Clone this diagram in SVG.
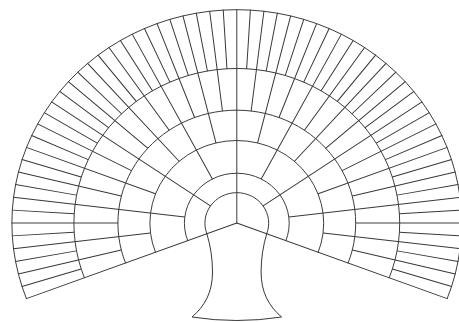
<svg xmlns="http://www.w3.org/2000/svg" xmlns:xlink="http://www.w3.org/1999/xlink" width="459" height="322" viewBox="0 0 459 322">
<style>
.ln{stroke:#383838;stroke-width:1;fill:none;stroke-linecap:round}
</style>
<defs>
<line id="s0" x1="0" y1="0" x2="225" y2="0"/>
<line id="s1" x1="32" y1="0" x2="225" y2="0"/>
<line id="s2" x1="52.5" y1="0" x2="225" y2="0"/>
<line id="s3" x1="87" y1="0" x2="225" y2="0"/>
<line id="s4" x1="119" y1="0" x2="225" y2="0"/>
<line id="s5" x1="163" y1="0" x2="225" y2="0"/>
</defs>
<rect width="459" height="322" fill="#ffffff"/>
<g id="fan" class="ln" transform="translate(236.8,223) scale(1,0.948)">
<g id="rings">
<path d="M -29.920,11.347 A 32 32 0 1 1 29.920,11.347"/>
<path d="M -49.089,18.617 A 52.5 52.5 0 1 1 49.089,18.617"/>
<path d="M -81.347,30.850 A 87 87 0 1 1 81.347,30.850"/>
<path d="M -111.267,42.197 A 119 119 0 1 1 111.267,42.197"/>
<path d="M -152.408,57.800 A 163 163 0 1 1 152.408,57.800"/>
<path d="M -210.380,79.785 A 225 225 0 1 1 210.380,79.785"/>
</g>
<g id="spokes">
<use xlink:href="#s0" transform="rotate(20.769)"/>
<use xlink:href="#s0" transform="rotate(-90)"/>
<use xlink:href="#s0" transform="rotate(-200.769)"/>
<use xlink:href="#s1" transform="rotate(-34.615)"/>
<use xlink:href="#s1" transform="rotate(-145.385)"/>
<use xlink:href="#s2" transform="rotate(-6.923)"/>
<use xlink:href="#s2" transform="rotate(-62.308)"/>
<use xlink:href="#s2" transform="rotate(-117.692)"/>
<use xlink:href="#s2" transform="rotate(-173.077)"/>
<use xlink:href="#s3" transform="rotate(6.923)"/>
<use xlink:href="#s3" transform="rotate(-20.769)"/>
<use xlink:href="#s3" transform="rotate(-48.462)"/>
<use xlink:href="#s3" transform="rotate(-76.154)"/>
<use xlink:href="#s3" transform="rotate(-103.846)"/>
<use xlink:href="#s3" transform="rotate(-131.538)"/>
<use xlink:href="#s3" transform="rotate(-159.231)"/>
<use xlink:href="#s3" transform="rotate(-186.923)"/>
<use xlink:href="#s4" transform="rotate(13.846)"/>
<use xlink:href="#s4" transform="rotate(0)"/>
<use xlink:href="#s4" transform="rotate(-13.846)"/>
<use xlink:href="#s4" transform="rotate(-27.692)"/>
<use xlink:href="#s4" transform="rotate(-41.538)"/>
<use xlink:href="#s4" transform="rotate(-55.385)"/>
<use xlink:href="#s4" transform="rotate(-69.231)"/>
<use xlink:href="#s4" transform="rotate(-83.077)"/>
<use xlink:href="#s4" transform="rotate(-96.923)"/>
<use xlink:href="#s4" transform="rotate(-110.769)"/>
<use xlink:href="#s4" transform="rotate(-124.615)"/>
<use xlink:href="#s4" transform="rotate(-138.462)"/>
<use xlink:href="#s4" transform="rotate(-152.308)"/>
<use xlink:href="#s4" transform="rotate(-166.154)"/>
<use xlink:href="#s4" transform="rotate(-180)"/>
<use xlink:href="#s4" transform="rotate(-193.846)"/>
<use xlink:href="#s5" transform="rotate(17.308)"/>
<use xlink:href="#s5" transform="rotate(10.385)"/>
<use xlink:href="#s5" transform="rotate(3.462)"/>
<use xlink:href="#s5" transform="rotate(-3.462)"/>
<use xlink:href="#s5" transform="rotate(-10.385)"/>
<use xlink:href="#s5" transform="rotate(-17.308)"/>
<use xlink:href="#s5" transform="rotate(-24.231)"/>
<use xlink:href="#s5" transform="rotate(-31.154)"/>
<use xlink:href="#s5" transform="rotate(-38.077)"/>
<use xlink:href="#s5" transform="rotate(-45)"/>
<use xlink:href="#s5" transform="rotate(-51.923)"/>
<use xlink:href="#s5" transform="rotate(-58.846)"/>
<use xlink:href="#s5" transform="rotate(-65.769)"/>
<use xlink:href="#s5" transform="rotate(-72.692)"/>
<use xlink:href="#s5" transform="rotate(-79.615)"/>
<use xlink:href="#s5" transform="rotate(-86.538)"/>
<use xlink:href="#s5" transform="rotate(-93.462)"/>
<use xlink:href="#s5" transform="rotate(-100.385)"/>
<use xlink:href="#s5" transform="rotate(-107.308)"/>
<use xlink:href="#s5" transform="rotate(-114.231)"/>
<use xlink:href="#s5" transform="rotate(-121.154)"/>
<use xlink:href="#s5" transform="rotate(-128.077)"/>
<use xlink:href="#s5" transform="rotate(-135)"/>
<use xlink:href="#s5" transform="rotate(-141.923)"/>
<use xlink:href="#s5" transform="rotate(-148.846)"/>
<use xlink:href="#s5" transform="rotate(-155.769)"/>
<use xlink:href="#s5" transform="rotate(-162.692)"/>
<use xlink:href="#s5" transform="rotate(-169.615)"/>
<use xlink:href="#s5" transform="rotate(-176.538)"/>
<use xlink:href="#s5" transform="rotate(-183.462)"/>
<use xlink:href="#s5" transform="rotate(-190.385)"/>
<use xlink:href="#s5" transform="rotate(-197.308)"/>
</g>
</g>
<g id="trunk" class="ln">
<path d="M 206.9,233.8 C 210.5,246 212.5,258 212.5,272 C 212.5,292 205,306 192,317 Q 236.8,324 281.6,317 C 268.6,306 261.1,292 261.1,272 C 261.1,258 263.1,246 266.7,233.8"/>
</g>
</svg>
